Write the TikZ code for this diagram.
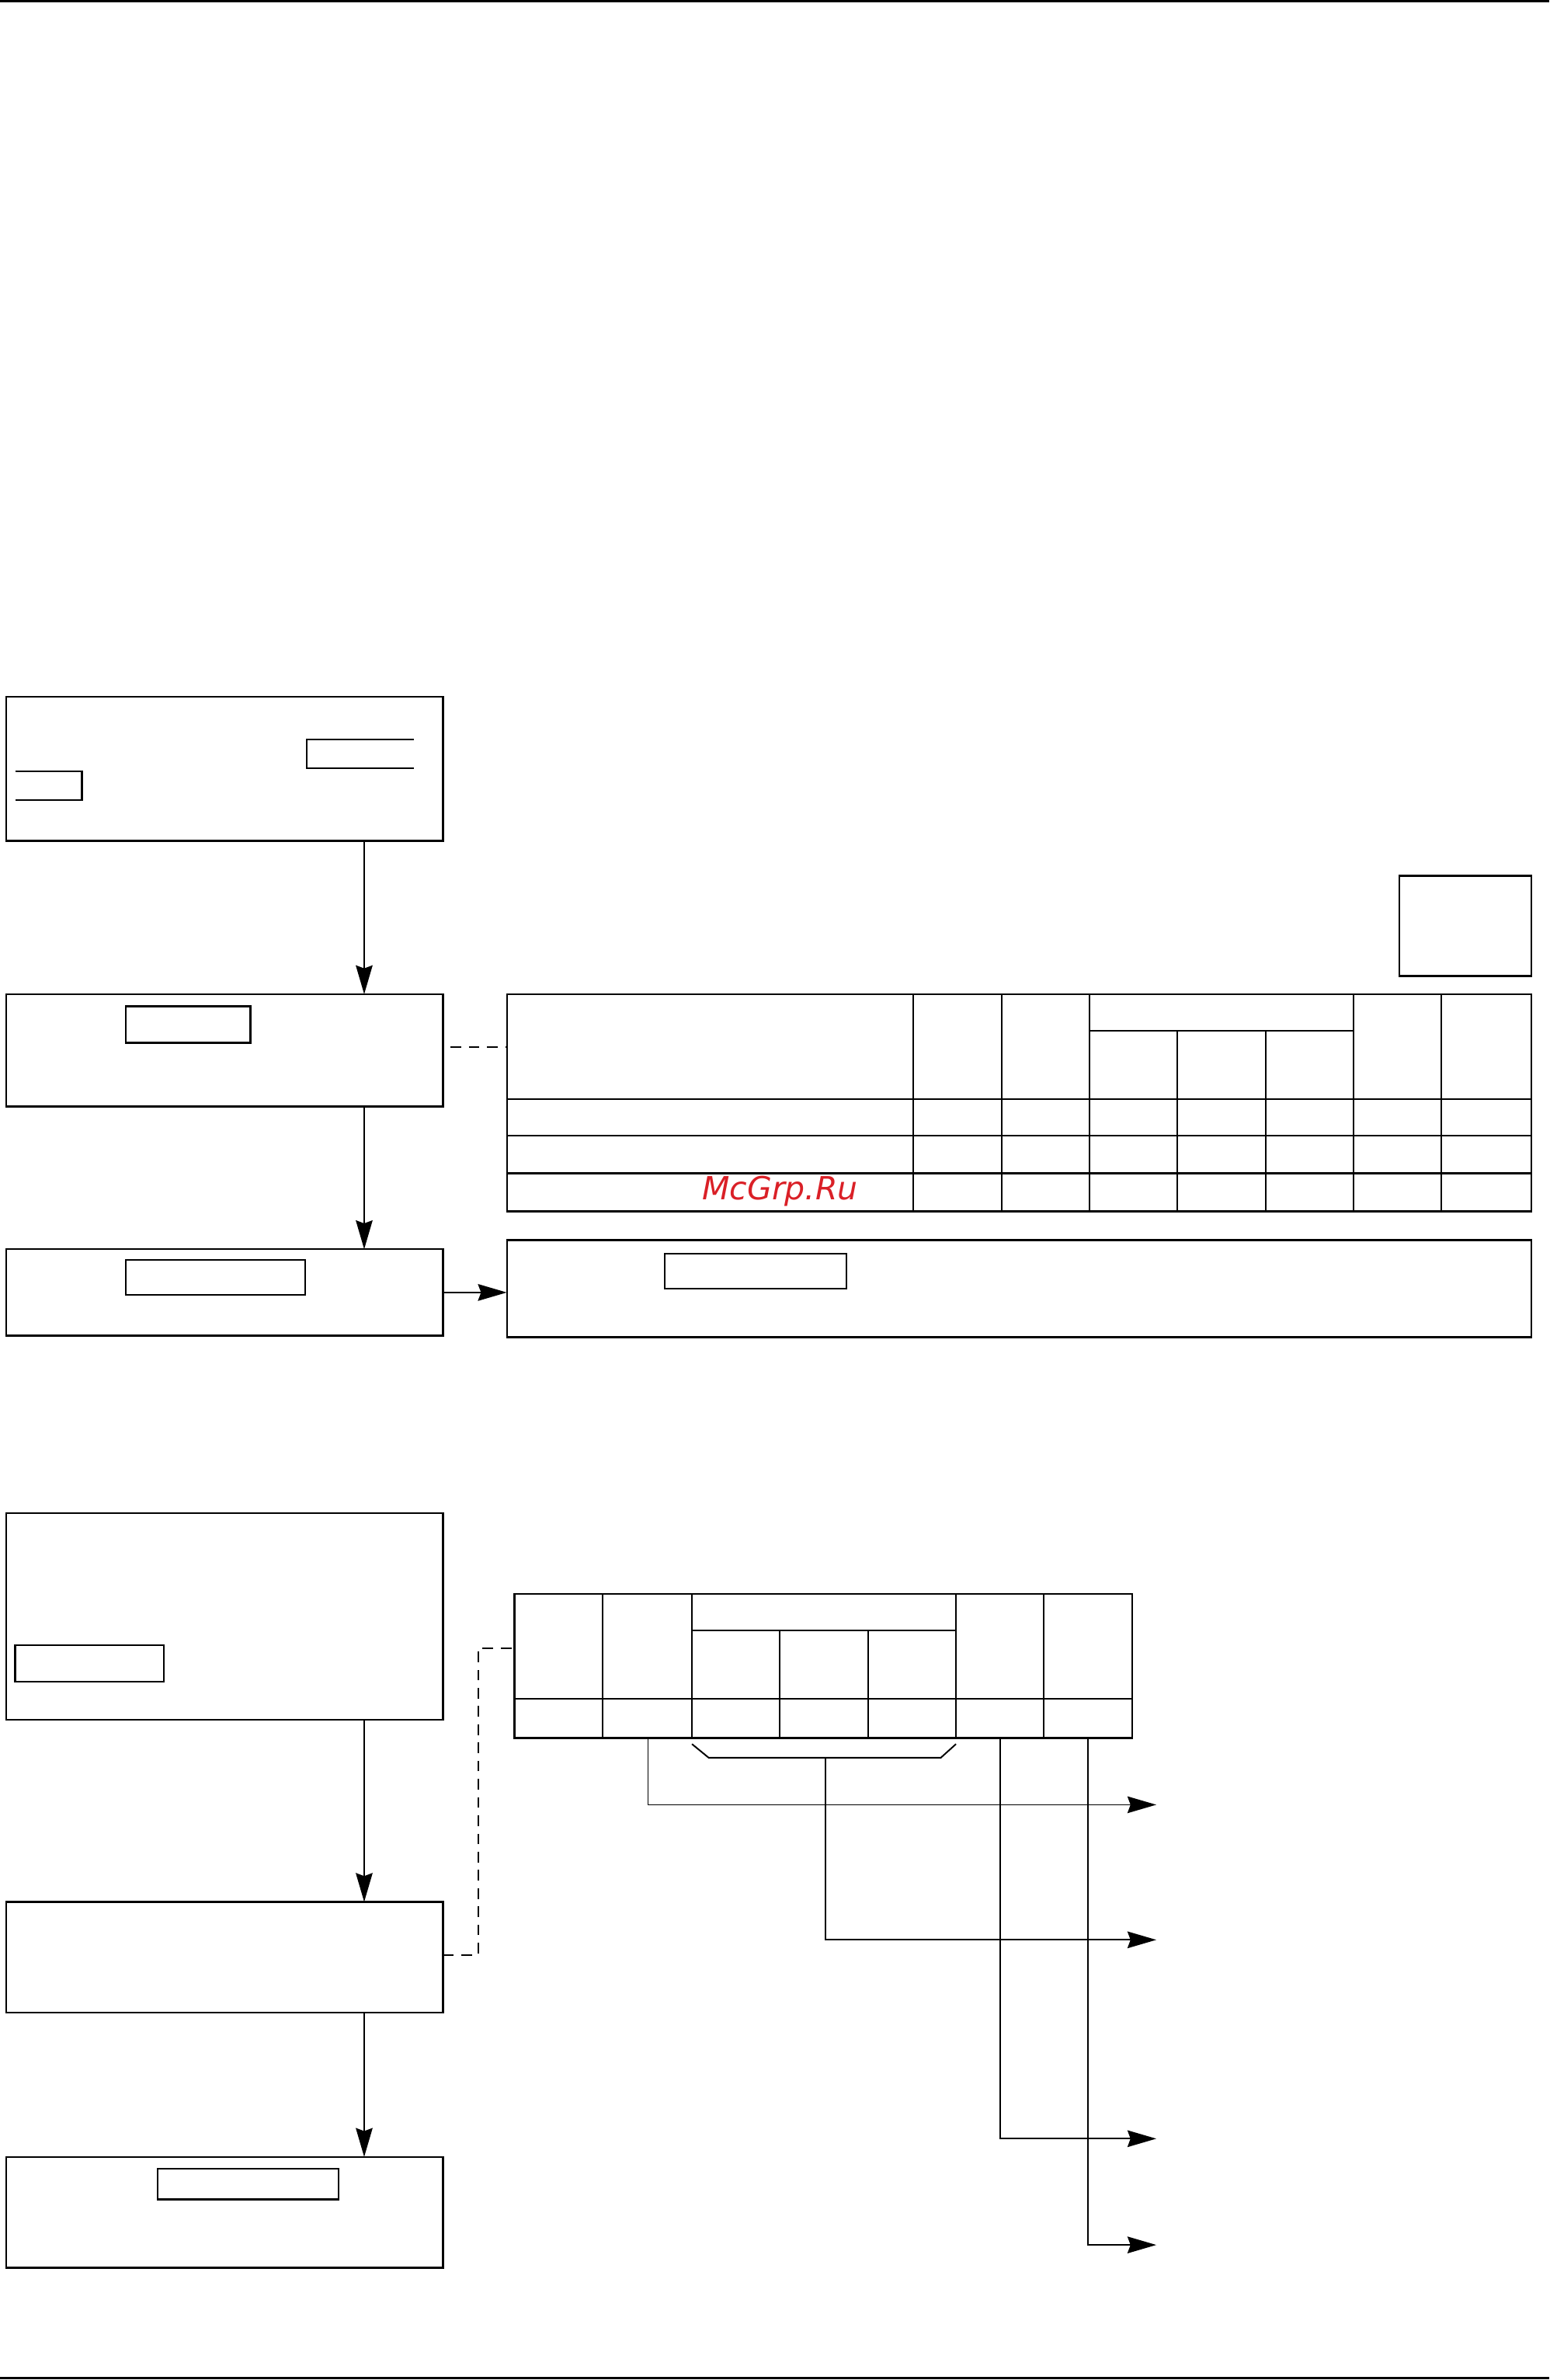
\documentclass[tikz,border=0pt]{standalone}
\usepackage{fontspec}
\usepackage{tikz}
\usetikzlibrary{arrows.meta,positioning}
\newfontfamily\wmfont{DejaVu Sans}
\definecolor{wmred}{RGB}{218,32,39}

\begin{document}
\begin{tikzpicture}[
  x=1pt, y=-1pt,
  box/.style={draw, line width=1.2pt, inner sep=0pt, outer sep=0pt},
  field/.style={draw, line width=1.1pt, inner sep=0pt, outer sep=0pt},
  grid/.style={line width=1.1pt},
  thin/.style={line width=1pt},
  arrow/.style={-{Stealth[length=19pt, width=11pt, inset=2pt]}, line width=1.1pt},
  link/.style={dashed, dash pattern=on 7pt off 5pt, line width=1pt},
]
\useasboundingbox (0,0) rectangle (1021,1568);
\draw[line width=1.4pt] (0,0.7) -- (1021,0.7);
\draw[line width=1.6pt] (0,1566.8) -- (1021,1566.8);

% upper chain
\node[box, minimum width=288pt, minimum height=95pt] (req) at (148,506.5) {};
\node[box, minimum width=288pt, minimum height=74pt] (sel) at (148,692) {};
\node[box, minimum width=288pt, minimum height=57pt] (res) at (148,851.5) {};
\node[box, minimum width=675pt, minimum height=64pt] (out) at (671.5,849) {};
\node[box, minimum width=87pt, minimum height=66pt] (tag) at (965.5,610) {};

\draw[field] (273,487) -- (202,487) -- (202,506) -- (273,506);
\draw[field] (10,508) -- (54,508) -- (54,527) -- (10,527);
\node[field, minimum width=82pt, minimum height=24pt] (selkey) at (124,675) {};
\node[field, minimum width=118pt, minimum height=23pt] (reskey) at (142,841.5) {};
\node[field, minimum width=120pt, minimum height=23pt] (outkey) at (498,837.5) {};

\draw[arrow] ([xshift=92pt]req.south) -- ([xshift=92pt]sel.north);
\draw[arrow] ([xshift=92pt]sel.south) -- ([xshift=92pt]res.north);
\draw[arrow] (res.east) -- (res.east -| out.west);

% upper table
\node[box, minimum width=675pt, minimum height=143pt] (tab) at (671.5,726.5) {};
\foreach \c in {602,660,718,892,950}
  \draw[grid] (\c,655) -- (\c,798);
\foreach \c in {776,834}
  \draw[grid] (\c,679) -- (\c,798);
\draw[grid] (718,679) -- (892,679);
\foreach \r in {724,748,773}
  \draw[grid] (334,\r) -- (1009,\r);
\draw[link] ([xshift=5pt]sel.east |- 0,690) -- (tab.west |- 0,690);

\node[wmred, font=\wmfont\itshape\fontsize{21}{21}\selectfont, inner sep=0pt] (wm) at (514,785) {McGrp.Ru};

% lower chain
\node[box, minimum width=288pt, minimum height=136pt] (doc) at (148,1065) {};
\node[box, minimum width=288pt, minimum height=73pt] (code) at (148,1289.5) {};
\node[box, minimum width=288pt, minimum height=73pt] (fin) at (148,1457.5) {};
\node[field, minimum width=98pt, minimum height=24pt] (dockey) at (59,1096) {};
\node[field, minimum width=119pt, minimum height=20pt] (finkey) at (163.5,1439) {};

\draw[arrow] ([xshift=92pt]doc.south) -- ([xshift=92pt]code.north);
\draw[arrow] ([xshift=92pt]code.south) -- ([xshift=92pt]fin.north);

% lower table
\node[draw, line width=1.1pt, inner sep=0pt, outer sep=0pt, minimum width=407pt, minimum height=95pt] (key) at (542.5,1097.5) {};
\foreach \c in {397,456,630,688}
  \draw[thin] (\c,1050) -- (\c,1145);
\foreach \c in {514,572}
  \draw[thin] (\c,1074) -- (\c,1145);
\draw[thin] (456,1074) -- (630,1074);
\draw[thin] (339,1119) -- (746,1119);
\draw[link] (code.east |- 0,1288) -- (315,1288) -- (315,1086) -- (key.west |- 0,1086);

\draw[thin] (456,1149) -- (467,1158) -- (620,1158) -- (630,1149);

\coordinate (k2) at (427,1145);
\coordinate (kb) at (544,1158);
\coordinate (k6) at (659,1145);
\coordinate (k7) at (717,1145);
\coordinate (o1) at (762,1189);
\coordinate (o2) at (762,1278);
\coordinate (o3) at (762,1409);
\coordinate (o4) at (762,1479);

\draw[arrow, line width=0.9pt] (k2) |- (o1);
\draw[arrow, line width=0.9pt] (kb) |- (o2);
\draw[arrow, line width=0.9pt] (k6) |- (o3);
\draw[arrow, line width=0.9pt] (k7) |- (o4);
\end{tikzpicture}
\end{document}
